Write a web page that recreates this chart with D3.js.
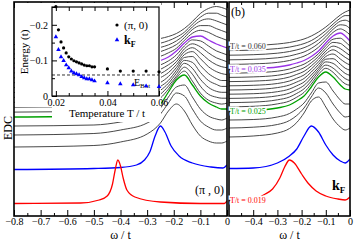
<!DOCTYPE html>
<html>
<head>
<meta charset="utf-8">
<script src="https://cdn.jsdelivr.net/npm/d3@7"></script>
<style>
body { margin: 0; background: #fff; }
svg { display: block; font-family: "Liberation Serif", "Times New Roman", serif; }
</style>
</head>
<body>
<svg id="chart" width="354" height="242"></svg>
<script>
// ---- data ----

// temperatures of the stacked black/colour curves (top to bottom)
var temps = ['0.060', '0.055', '0.050', '0.045', '0.040', '0.035', '0.034', '0.033', '0.032', '0.031',
             '0.030', '0.029', '0.028', '0.027', '0.026', '0.025', '0.024', '0.023', '0.022'];

// panel (a) energy grid and curves
var omega_a = [-0.8, -0.5, -0.4, -0.3, -0.25, -0.22, -0.19, -0.16, -0.13, -0.1, -0.07, -0.04, -0.02, 0];
var offset_a = [171.5, 166.8, 162.1, 157.4, 152.7, 148, 143.1, 138.2, 133.3, 128.4, 123.5, 118.6, 113.7, 108.8, 103.9, 99, 90, 81, 69];
var shape_a = [
    [0, 1, 2, 4, 6, 8, 11, 16, 23, 31, 36, 38, 37, 35],
    [0, 1, 2, 4, 6, 8.5, 12, 17, 25, 32, 36, 36, 34, 32],
    [0, 1, 2, 4, 6.5, 9, 13, 19, 27, 33, 35, 33, 31, 29],
    [0, 1, 2, 4.5, 7, 10, 14, 21, 29, 33, 33, 30, 28, 26],
    [0, 1, 2, 4.5, 7, 10.5, 15, 23, 30, 33, 31, 27, 25, 23],
    [0, 1, 2.5, 5, 7.5, 11, 17, 25, 31, 32, 28, 24, 22, 20],
    [0, 1, 2.5, 5, 8, 12, 18, 27, 33, 32, 27, 22, 20, 18],
    [0, 1, 2.5, 5, 8.5, 13, 19, 29, 34, 31, 25, 20, 18, 16],
    [0, 1, 2.5, 5.5, 9, 14, 21, 31, 35, 30, 23, 18, 16, 15],
    [0, 1, 3, 6, 10, 15, 23, 33, 36, 29, 21, 16, 14, 13],
    [0, 1, 3, 6, 10, 16, 25, 35, 36, 27, 19, 14, 12, 12],
    [0, 1, 3, 6.5, 11, 17, 27, 37, 35, 25, 17, 13, 11, 11],
    [0, 1, 3, 7, 12, 19, 29, 39, 34, 23, 15, 11, 10, 10],
    [0, 1, 3, 7, 13, 21, 31, 40, 33, 21, 13, 10, 9, 9],
    [0, 1, 3, 7.5, 14, 23, 34, 41, 31, 19, 12, 9, 8, 9],
    [0, 1, 2, 6, 13, 25, 37, 42, 32, 21, 14, 10, 8, 8],
    [0, 1, 4, 10, 18, 29, 39, 41, 29, 17, 10, 7, 6, 8],
    [0, 1.5, 5, 12, 21, 32, 42, 39, 26, 14, 8, 5, 5, 7],
    [0, 1.5, 5, 13, 24, 36, 43, 36, 22, 11, 6, 4, 4, 6]
];
var omega_blue_a = [-0.8, -0.5, -0.4, -0.34, -0.31, -0.29, -0.27, -0.25, -0.233, -0.21, -0.18, -0.13, -0.06, -0.015, 0];
var edc_blue_a = [46.5, 47.5, 48.5, 51, 56, 64, 80, 90, 84, 70, 60, 53, 49, 48, 51];
var omega_red_a = [-0.8, -0.55, -0.48, -0.45, -0.43, -0.42, -0.41, -0.40, -0.39, -0.376, -0.346, -0.25, -0.1, -0.01, 0];
var edc_red_a = [12.5, 13, 16, 20, 32, 46, 56, 50, 38, 26, 19, 14, 12.5, 12.5, 15];

// panel (b) energy grid and curves
var omega_b = [-0.5, -0.4, -0.3, -0.25, -0.22, -0.19, -0.16, -0.13, -0.1, -0.07, -0.04, -0.02, 0];
var offset_b = [170, 165.4, 160.8, 156.2, 151.6, 147, 142.8, 138.6, 134.4, 130.2, 126, 121.8, 117.6, 113.4, 109.2, 105, 96, 88, 79];
var shape_b = [
    [0, 0.5, 2, 3.5, 5, 7, 10, 14, 19, 25, 31, 34, 36],
    [0, 0.5, 2, 3.5, 5, 7, 10, 14.5, 20, 26.5, 32.5, 35, 35],
    [0, 0.5, 2, 3.7, 5.3, 7.5, 10.8, 15.5, 21.5, 28.5, 34, 35, 33],
    [0, 0.5, 2, 3.8, 5.6, 7.8, 11.4, 16.4, 23, 30.5, 35, 34.5, 31],
    [0, 0.5, 2, 3.9, 5.8, 8.2, 12, 17.2, 24.5, 32, 35.5, 33.5, 29.5],
    [0, 0.5, 2, 4, 6, 8.5, 12.5, 18, 26, 33, 36, 33, 28],
    [0, 0.5, 2, 4.2, 6.4, 9, 13.5, 19.5, 27.5, 34, 35, 31.5, 27],
    [0, 0.5, 2.1, 4.4, 6.8, 9.6, 14.6, 21, 29, 35, 34, 30.5, 26.5],
    [0, 0.5, 2.2, 4.6, 7.2, 10.2, 15.7, 22.5, 30.5, 35.5, 33, 29.5, 26],
    [0, 0.5, 2.3, 4.8, 7.6, 10.8, 16.8, 24, 32, 36, 32, 28.5, 25.5],
    [0, 0.5, 2.4, 5, 8, 11.5, 18, 25.5, 33.5, 36, 31, 27.5, 25],
    [0, 0.5, 2.5, 5.2, 8.4, 12.2, 19.2, 27, 35, 35.5, 30, 26, 24],
    [0, 0.5, 2.6, 5.4, 8.8, 13, 20.4, 29, 36.5, 35, 29, 25, 23],
    [0, 0.5, 2.8, 5.6, 9.2, 13.8, 21.6, 31, 37.5, 34.5, 28, 24, 22],
    [0, 0.5, 2.9, 5.8, 9.6, 14.4, 22.8, 32.5, 38.5, 34.5, 27, 23, 21.5],
    [0, 0.5, 3, 6, 10, 15, 24, 34, 39, 34, 26, 22, 21],
    [0, 0.5, 3, 6.5, 11, 17, 27, 37, 38, 29, 20, 16, 16],
    [0, 0.8, 3.5, 7.5, 12.5, 20, 31, 40, 35, 24, 15, 11, 12],
    [0, 1, 4, 8.5, 14.5, 24, 36, 40, 30, 18, 10, 7, 9]
];
var edc_blue_b = [47.5, 48, 53, 60, 67, 80, 90, 84, 71, 61, 55, 53, 57];
var omega_red_b = [-0.5, -0.4, -0.35, -0.32, -0.29, -0.27, -0.25, -0.23, -0.2, -0.17, -0.14, -0.1, -0.05, -0.02, 0];
var edc_red_b = [16, 17, 22, 27, 38, 49, 56, 53, 42, 32, 25, 20, 17, 16, 19];

// inset: peak energies vs temperature
var inset_temp = [0.020, 0.021, 0.022, 0.023, 0.024, 0.025, 0.026, 0.027, 0.028, 0.029, 0.030,
                  0.031, 0.032, 0.033, 0.034, 0.035, 0.040, 0.045, 0.050, 0.055, 0.060];
var energy_pi0 = [-0.251, -0.186, -0.152, -0.135, -0.121, -0.110, -0.104, -0.099, -0.096, -0.093, -0.090,
                  -0.087, -0.085, -0.085, -0.082, -0.082, -0.076, -0.070, -0.070, -0.070, -0.068];
var energy_kf = [-0.166, -0.130, -0.110, -0.099, -0.087, -0.079, -0.070, -0.065, -0.062, -0.059, -0.054,
                 -0.051, -0.048, -0.048, -0.045, -0.042, -0.037, -0.034, -0.031, -0.028, -0.026];
var e_bot = -0.059;

// labelled temperatures and colours
var label_colors = { '0.035': '#9933e6', '0.025': '#00a000' };

// ---- drawing ----
var svg = d3.select('#chart');
var y_top = 2, y_bottom = 216;

// shared vertical scale (EDC, arbitrary units, stacked)
var y = d3.scaleLinear().domain([0, 214]).range([y_bottom, y_top]);

// panel scales
var xa = d3.scaleLinear().domain([-0.8, 0]).range([14, 227]);
var xb = d3.scaleLinear().domain([-0.5, 0]).range([229, 350]);

// draw a stacked curve
function draw_curve(g, x, omegas, values, color, width) {
    var line = d3.line()
        .x(function(d, i) { return x(omegas[i]); })
        .y(function(d) { return y(d); })
        .curve(d3.curveMonotoneX);
    g.append('path')
        .attr('d', line(values))
        .attr('fill', 'none')
        .attr('stroke', color)
        .attr('stroke-width', width);
}

// draw a whole panel
function draw_panel(x, omegas, offsets, shapes, omega_blue, edc_blue, omega_red, edc_red, clip_id) {
    var g = svg.append('g').attr('clip-path', 'url(#' + clip_id + ')');
    for (var i = 0; i < shapes.length; i++) {
        var vals = shapes[i].map(function(s) { return s + offsets[i]; });
        var col = label_colors[temps[i]] || '#333';
        draw_curve(g, x, omegas, vals, col, label_colors[temps[i]] ? 1.3 : 0.9);
    }
    draw_curve(g, x, omega_blue, edc_blue, '#0000ff', 1.3);
    draw_curve(g, x, omega_red, edc_red, '#ff0000', 1.3);
    return g;
}

// clip paths
var defs = svg.append('defs');
defs.append('clipPath').attr('id', 'clip_a').append('rect')
    .attr('x', 14).attr('y', y_top).attr('width', 213).attr('height', y_bottom - y_top);
defs.append('clipPath').attr('id', 'clip_b').append('rect')
    .attr('x', 229).attr('y', y_top).attr('width', 121).attr('height', y_bottom - y_top);

draw_panel(xa, omega_a, offset_a, shape_a, omega_blue_a, edc_blue_a, omega_red_a, edc_red_a, 'clip_a');
draw_panel(xb, omega_b, offset_b, shape_b, omega_b, edc_blue_b, omega_red_b, edc_red_b, 'clip_b');

// axes for one panel
function draw_axes(x, major, minor) {
    var xa0 = x.range()[0], xa1 = x.range()[1];
    // bottom
    svg.append('g')
        .attr('transform', 'translate(0,' + y_bottom + ')')
        .call(d3.axisBottom(x).tickValues(major).tickSize(-6).tickPadding(2)
            .tickFormat(function(d) { return d === 0 ? '0' : d3.format('.1f')(d); }))
        .call(function(g) {
            g.select('.domain').remove();
            g.selectAll('text').attr('font-size', 10).attr('font-family', '"Liberation Serif", serif');
        });
    svg.append('g')
        .attr('transform', 'translate(0,' + y_bottom + ')')
        .call(d3.axisBottom(x).tickValues(minor).tickSize(-3).tickFormat(''))
        .call(function(g) { g.select('.domain').remove(); });
    // top
    svg.append('g')
        .attr('transform', 'translate(0,' + y_top + ')')
        .call(d3.axisTop(x).tickValues(major).tickSize(-6).tickFormat(''))
        .call(function(g) { g.select('.domain').remove(); });
    svg.append('g')
        .attr('transform', 'translate(0,' + y_top + ')')
        .call(d3.axisTop(x).tickValues(minor).tickSize(-3).tickFormat(''))
        .call(function(g) { g.select('.domain').remove(); });
    // frame
    svg.append('rect')
        .attr('x', xa0).attr('y', y_top)
        .attr('width', xa1 - xa0).attr('height', y_bottom - y_top)
        .attr('fill', 'none').attr('stroke', '#000').attr('stroke-width', 1.6);
    // axis title
    svg.append('text')
        .attr('x', (xa0 + xa1) / 2).attr('y', 239)
        .attr('text-anchor', 'middle').attr('font-size', 12)
        .text('ω / t');
}

draw_axes(xa, [-0.8, -0.7, -0.6, -0.5, -0.4, -0.3, -0.2, -0.1, 0],
          [-0.75, -0.65, -0.55, -0.45, -0.35, -0.25, -0.15, -0.05]);
draw_axes(xb, [-0.4, -0.3, -0.2, -0.1, 0],
          [-0.45, -0.35, -0.25, -0.15, -0.05]);

// EDC label
svg.append('text')
    .attr('transform', 'translate(12,128) rotate(-90)')
    .attr('text-anchor', 'middle').attr('font-size', 12)
    .text('EDC');

// panel tags
svg.append('text').attr('x', 16).attr('y', 16).attr('font-size', 12).text('(a)');
svg.append('text').attr('x', 231).attr('y', 16).attr('font-size', 12).text('(b)');
svg.append('text').attr('x', 224).attr('y', 194).attr('text-anchor', 'end').attr('font-size', 12).text('(π , 0)');
var kf_b = svg.append('text').attr('x', 332).attr('y', 190).attr('font-size', 14).attr('font-weight', 'bold');
kf_b.append('tspan').text('k');
kf_b.append('tspan').attr('dy', 3).attr('font-size', 9).text('F');

// temperature tags in panel (b)
function temp_tag(text, value, color) {
    svg.append('text')
        .attr('x', 230).attr('y', y(value) + 3)
        .attr('font-size', 8).attr('fill', color)
        .attr('stroke', '#fff').attr('stroke-width', 3).attr('paint-order', 'stroke')
        .text(text);
}
temp_tag('T/t = 0.060', offset_b[0], '#333');
temp_tag('T/t = 0.035', offset_b[5], label_colors['0.035']);
temp_tag('T/t = 0.025', offset_b[15], label_colors['0.025']);
temp_tag('T/t = 0.019', edc_red_b[0], '#ff0000');

// ---- inset ----
var ix = d3.scaleLinear().domain([0.0185, 0.06]).range([52, 159]);
var iy = d3.scaleLinear().domain([0, -0.25]).range([96, 7]);

// white backing
svg.append('rect').attr('x', 15).attr('y', 3).attr('width', 146).attr('height', 104).attr('fill', '#fff');
svg.append('rect').attr('x', 52).attr('y', 3).attr('width', 109).attr('height', 119).attr('fill', '#fff');

var inset = svg.append('g');
inset.append('g')
    .attr('transform', 'translate(0,96)')
    .call(d3.axisBottom(ix).tickValues([0.02, 0.04, 0.06]).tickSize(-5).tickPadding(3)
        .tickFormat(d3.format('.2f')))
    .call(function(g) {
        g.select('.domain').remove();
        g.selectAll('text').attr('font-size', 10).attr('font-family', '"Liberation Serif", serif');
    });
inset.append('g')
    .attr('transform', 'translate(0,96)')
    .call(d3.axisBottom(ix).tickValues([0.025, 0.03, 0.035, 0.045, 0.05, 0.055]).tickSize(-3).tickFormat(''))
    .call(function(g) { g.select('.domain').remove(); });
inset.append('g')
    .attr('transform', 'translate(0,7)')
    .call(d3.axisTop(ix).tickValues([0.02, 0.025, 0.03, 0.035, 0.04, 0.045, 0.05, 0.055]).tickSize(-4).tickFormat(''))
    .call(function(g) { g.select('.domain').remove(); });
inset.append('g')
    .attr('transform', 'translate(52,0)')
    .call(d3.axisLeft(iy).tickValues([0, -0.1, -0.2]).tickSize(-5).tickPadding(4)
        .tickFormat(function(d) { return d === 0 ? '0' : d3.format('.1f')(d); }))
    .call(function(g) {
        g.select('.domain').remove();
        g.selectAll('text').attr('font-size', 10).attr('font-family', '"Liberation Serif", serif');
    });
inset.append('g')
    .attr('transform', 'translate(52,0)')
    .call(d3.axisLeft(iy).tickValues([-0.05, -0.15, -0.25]).tickSize(-3).tickFormat(''))
    .call(function(g) { g.select('.domain').remove(); });
inset.append('rect')
    .attr('x', 52).attr('y', 7).attr('width', 107).attr('height', 89)
    .attr('fill', 'none').attr('stroke', '#000').attr('stroke-width', 1.2);

// E_Bot dashed line
inset.append('line')
    .attr('x1', 52).attr('x2', 159).attr('y1', iy(e_bot)).attr('y2', iy(e_bot))
    .attr('stroke', '#000').attr('stroke-dasharray', '3,2').attr('stroke-width', 0.8);
var ebot = inset.append('text').attr('x', 134).attr('y', 86).attr('font-size', 10);
ebot.append('tspan').text('E');
ebot.append('tspan').attr('dy', 2).attr('font-size', 7).text('Bot');

// markers
inset.selectAll('circle.pi0').data(inset_temp).enter().append('circle')
    .attr('cx', function(d) { return ix(d); })
    .attr('cy', function(d, i) { return iy(energy_pi0[i]); })
    .attr('r', 1.6).attr('fill', '#000');
var tri = d3.symbol().type(d3.symbolTriangle).size(9);
inset.selectAll('path.kf').data(inset_temp).enter().append('path')
    .attr('d', tri)
    .attr('transform', function(d, i) { return 'translate(' + ix(d) + ',' + iy(energy_kf[i]) + ')'; })
    .attr('fill', '#0000ff');

// legend
inset.append('circle').attr('cx', 117).attr('cy', 25).attr('r', 1.6).attr('fill', '#000');
inset.append('text').attr('x', 124).attr('y', 29).attr('font-size', 11).text('(π, 0)');
inset.append('path').attr('d', tri).attr('transform', 'translate(117,40)').attr('fill', '#0000ff');
var kf_i = inset.append('text').attr('x', 124).attr('y', 44).attr('font-size', 12).attr('font-weight', 'bold');
kf_i.append('tspan').text('k');
kf_i.append('tspan').attr('dy', 3).attr('font-size', 8).text('F');

// inset titles
inset.append('text')
    .attr('transform', 'translate(28,52) rotate(-90)')
    .attr('text-anchor', 'middle').attr('font-size', 11)
    .text('Energy (t)');
inset.append('text')
    .attr('x', 107).attr('y', 117)
    .attr('text-anchor', 'middle').attr('font-size', 11)
    .text('Temperature T / t');
</script>
</body>
</html>
